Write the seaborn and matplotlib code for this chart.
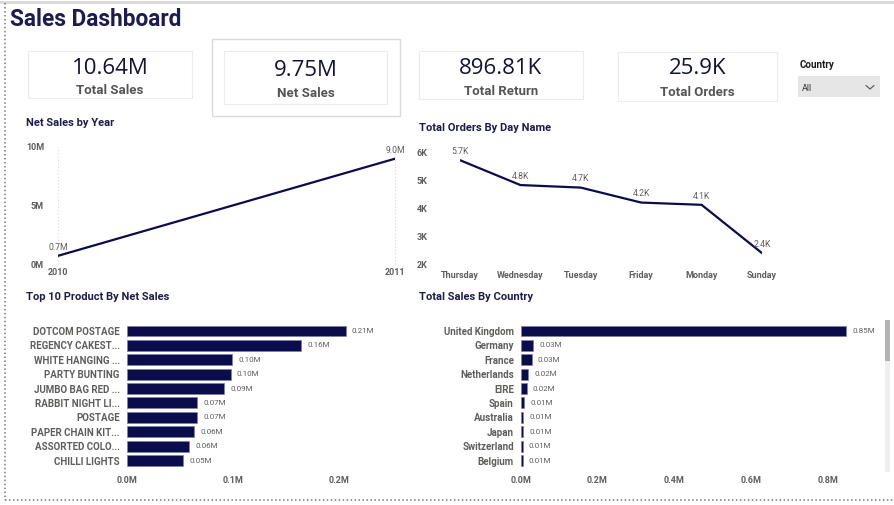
import matplotlib
matplotlib.use("Agg")
import matplotlib.pyplot as plt
import seaborn as sns
import pandas as pd
from matplotlib.patches import Rectangle
from matplotlib.lines import Line2D

sns.set_theme(style="white")
plt.rcParams['font.family'] = ['Liberation Sans Narrow', 'Roboto', 'DejaVu Sans']

# KPI cards
kpi_values = ['10.64M', '9.75M', '896.81K', '25.9K']
kpi_labels = ['Total Sales', 'Net Sales', 'Total Return', 'Total Orders']

# Net sales by year
years = [2010, 2011]
net_sales_year = [0.7e6, 9.0e6]

# Orders by day name
days = ['Thursday', 'Wednesday', 'Tuesday', 'Friday', 'Monday', 'Sunday']
orders_day = [5710, 4830, 4740, 4210, 4130, 2420]

# Top 10 products
products = ['DOTCOM POSTAGE', 'REGENCY CAKEST...', 'WHITE HANGING ...', 'PARTY BUNTING',
            'JUMBO BAG RED ...', 'RABBIT NIGHT LI...', 'POSTAGE', 'PAPER CHAIN KIT...',
            'ASSORTED COLO...', 'CHILLI LIGHTS']
product_sales = [0.206, 0.164, 0.0994, 0.0979, 0.0919, 0.0665, 0.066, 0.0637, 0.0587, 0.0533]

# Sales by country
countries = ['United Kingdom', 'Germany', 'France', 'Netherlands', 'EIRE', 'Spain',
             'Australia', 'Japan', 'Switzerland', 'Belgium']
country_sales = [0.848, 0.032, 0.0287, 0.019, 0.0156, 0.0087, 0.0069, 0.0069, 0.0052, 0.0052]

W, H = 894, 505
NAVY = '#0b0c4b'
TITLE = '#1c1c50'
GREY = '#605e5c'

fig = plt.figure(figsize=(W / 100, H / 100), dpi=100)
fig.patch.set_facecolor('white')


def box(x0, y0, x1, y1):
    return [x0 / W, 1 - y1 / H, (x1 - x0) / W, (y1 - y0) / H]


def ftext(x, y, s, **kw):
    fig.text(x / W, 1 - y / H, s, **kw)


def frect(x0, y0, x1, y1, **kw):
    fig.patches.append(Rectangle((x0 / W, 1 - y1 / H), (x1 - x0) / W, (y1 - y0) / H,
                                 transform=fig.transFigure, **kw))


def fline(xs, ys, **kw):
    fig.lines.append(Line2D([x / W for x in xs], [1 - y / H for y in ys],
                            transform=fig.transFigure, **kw))


# page frame
fline([0, W], [1.5, 1.5], color='#d8d8d8', lw=2)
fline([5, 5], [3, 500], color='#777777', lw=1.1, ls=(0, (1, 1.6)))
fline([5, W], [500, 500], color='#777777', lw=1.1, ls=(0, (1, 1.6)))

ftext(10, 20, 'Sales Dashboard', fontsize=16.3, fontweight='bold', color=TITLE,
      family=['Roboto', 'DejaVu Sans'], ha='left', va='center')

# cards
frect(212, 39, 400, 116, fill=False, ec='#dadada', lw=1)
cards = [(28, 51, 192, 98, 68, 91), (224, 51, 387, 104, 71, 94),
         (419, 51, 583, 99, 68, 92), (618, 52, 777, 101, 69, 93)]
for (x0, y0, x1, y1, vy, ly), val, lab in zip(cards, kpi_values, kpi_labels):
    frect(x0, y0, x1, y1, fill=False, ec='#ececec', lw=0.8)
    cx = (x0 + x1) / 2
    ftext(cx, vy, val, fontsize=16, color='#12123a', ha='center', va='center',
          family=['Open Sans', 'DejaVu Sans'])
    ftext(cx, ly, lab, fontsize=9.5, fontweight='bold', color='#555555', ha='center', va='center',
          family=['Roboto', 'DejaVu Sans'])

# slicer
ftext(800, 65, 'Country', fontsize=7, fontweight='bold', color='#1a1a1a', ha='left', va='center',
      family=['Roboto', 'DejaVu Sans'])
frect(798, 76, 880, 97, fill=True, fc='#e6e6e6', ec='none')
ftext(802, 88.5, 'All', fontsize=6.5, color='#333333', ha='left', va='center',
      family=['Roboto', 'DejaVu Sans'])
fline([866, 870, 874], [85.5, 89, 85.5], color='#555555', lw=0.8)

# chart titles
for x, y, s in [(26, 123, 'Net Sales by Year'), (419, 128, 'Total Orders By Day Name'),
                (26, 297, 'Top 10 Product By Net Sales'), (419, 297, 'Total Sales By Country')]:
    ftext(x, y, s, fontsize=8, fontweight='bold', color=TITLE, ha='left', va='center',
          family=['Roboto', 'DejaVu Sans'])

tick_kw = dict(labelsize=6.5, labelcolor=GREY, length=0)


def style(ax):
    for sp in ax.spines.values():
        sp.set_visible(False)
    ax.set_xlabel('')
    ax.set_ylabel('')
    ax.set_facecolor('none')
    for lab in ax.get_xticklabels() + ax.get_yticklabels():
        lab.set_fontweight('bold')


# Net Sales by Year
ax1 = fig.add_axes(box(58, 147, 395, 264))
sns.lineplot(x=years, y=net_sales_year, ax=ax1, color=NAVY, lw=1.6)
ax1.set_xlim(2010, 2011)
ax1.set_ylim(0, 10e6)
ax1.set_xticks(years, [str(y) for y in years])
ax1.set_yticks([0, 5e6, 10e6], ['0M', '5M', '10M'])
ax1.tick_params(axis='y', pad=10, **tick_kw)
ax1.tick_params(axis='x', pad=3, **tick_kw)
for xv in years:
    ax1.axvline(xv, color='#d9d9d9', lw=0.8, ls=(0, (1, 2)), zorder=0, clip_on=False)
for xv, yv in zip(years, net_sales_year):
    ax1.annotate(f'{yv / 1e6:.1f}M', (xv, yv), xytext=(0, 3), textcoords='offset points',
                 ha='center', va='bottom', fontsize=6.2, color=GREY, annotation_clip=False)
style(ax1)

# Total Orders By Day Name
ax2 = fig.add_axes(box(460, 152, 762, 265))
sns.lineplot(x=days, y=orders_day, ax=ax2, color=NAVY, lw=1.6, sort=False)
ax2.set_xlim(-0.0, len(days) - 1)
ax2.set_ylim(2000, 6000)
ax2.set_yticks([2000, 3000, 4000, 5000, 6000], ['2K', '3K', '4K', '5K', '6K'])
ax2.tick_params(axis='y', pad=31, **tick_kw)
ax2.tick_params(axis='x', pad=4, **tick_kw)
for i, yv in enumerate(orders_day):
    ax2.annotate(f'{yv / 1000:.1f}K', (i, yv), xytext=(0, 3), textcoords='offset points',
                 ha='center', va='bottom', fontsize=6.2, color=GREY, annotation_clip=False)
style(ax2)
for lab in ax2.get_yticklabels():
    lab.set_horizontalalignment('left')

# Top 10 Product By Net Sales
ax3 = fig.add_axes(box(126.7, 323.8, 383, 467.7))
df_p = pd.DataFrame({'product': products, 'sales': product_sales})
sns.barplot(data=df_p, x='sales', y='product', ax=ax3, color=NAVY, saturation=1,
            width=0.76, edgecolor='#7d7fa6', linewidth=0.5)
ax3.set_xlim(0, 0.2413)
ax3.set_ylim(len(products) - 0.5, -0.5)
ax3.set_xticks([0, 0.1, 0.2], ['0.0M', '0.1M', '0.2M'])
ax3.tick_params(axis='y', pad=5, labelsize=7, labelcolor=GREY, length=0)
ax3.tick_params(axis='x', pad=6, **tick_kw)
for i, v in enumerate(product_sales):
    ax3.annotate(f'{v:.2f}M', (v, i), xytext=(4.5, 0), textcoords='offset points',
                 ha='left', va='center', fontsize=5.8, color=GREY)
style(ax3)

# Total Sales By Country
ax4 = fig.add_axes(box(520.7, 323.8, 880, 467.7))
df_c = pd.DataFrame({'country': countries, 'sales': country_sales})
sns.barplot(data=df_c, x='sales', y='country', ax=ax4, color=NAVY, saturation=1,
            width=0.76, edgecolor='#7d7fa6', linewidth=0.5)
ax4.set_xlim(0, 0.9363)
ax4.set_ylim(len(countries) - 0.5, -0.5)
ax4.set_xticks([0, 0.2, 0.4, 0.6, 0.8], ['0.0M', '0.2M', '0.4M', '0.6M', '0.8M'])
ax4.tick_params(axis='y', pad=5, labelsize=7, labelcolor=GREY, length=0)
ax4.tick_params(axis='x', pad=6, **tick_kw)
for i, v in enumerate(country_sales):
    ax4.annotate(f'{v:.2f}M', (v, i), xytext=(4.5, 0), textcoords='offset points',
                 ha='left', va='center', fontsize=5.8, color=GREY)
style(ax4)

# scrollbar
frect(885, 320, 890, 472, fill=True, fc='#efefef', ec='none')
frect(885, 320, 890, 361, fill=True, fc='#b3b3b3', ec='none')

fig.savefig('out.png', dpi=100, facecolor='white')
